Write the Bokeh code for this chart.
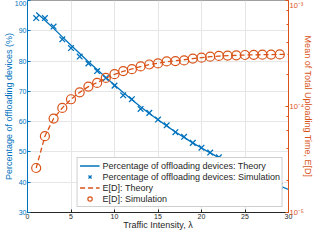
from bokeh.plotting import figure
from bokeh.models import Range1d, LogScale, LogAxis, FixedTicker, CustomJSTickFormatter
from bokeh.embed import file_html
from bokeh.resources import INLINE

# ---- data ----
lam_theory = list(range(1, 31))
pct_theory = [96.0, 93.5, 90.8, 88.0, 85.2, 82.5, 79.8, 77.2, 74.6, 72.1,
              69.6, 67.2, 64.9, 62.7, 60.6, 58.6, 56.6, 54.8, 53.0, 51.3,
              49.7, 48.1, 46.6, 45.2, 43.8, 42.5, 41.2, 40.0, 38.8, 37.6]
lam_sim = list(range(1, 30))
pct_sim = [94.2, 94.2, 91.4, 87.2, 84.3, 81.5, 79.2, 76.7, 74.4, 71.9,
           68.7, 67.4, 64.2, 62.9, 60.7, 58.8, 56.5, 55.0, 53.0, 51.4,
           49.8, 48.2, 46.6, 45.0, 43.7, 42.6, 41.1, 40.1, 38.7]
ed_theory = [2.63e-5, 5.25e-5, 7.7e-5, 9.7e-5, 1.17e-4, 1.36e-4, 1.54e-4, 1.68e-4, 1.85e-4, 2.01e-4,
             2.15e-4, 2.26e-4, 2.38e-4, 2.48e-4, 2.56e-4, 2.64e-4, 2.70e-4, 2.76e-4, 2.83e-4, 2.89e-4,
             2.95e-4, 2.99e-4, 3.02e-4, 3.04e-4, 3.06e-4, 3.07e-4, 3.08e-4, 3.09e-4, 3.10e-4, 3.10e-4]
ed_sim = [2.63e-5, 5.25e-5, 7.7e-5, 9.7e-5, 1.17e-4, 1.36e-4, 1.54e-4, 1.67e-4, 1.86e-4, 2.02e-4,
          2.16e-4, 2.25e-4, 2.39e-4, 2.49e-4, 2.55e-4, 2.66e-4, 2.68e-4, 2.72e-4, 2.83e-4, 2.89e-4,
          2.95e-4, 3.0e-4, 3.02e-4, 3.04e-4, 3.06e-4, 3.07e-4, 3.08e-4, 3.09e-4, 3.10e-4]

x_ticks = [0, 5, 10, 15, 20, 25, 30]
y_ticks = [30, 40, 50, 60, 70, 80, 90, 100]

BLUE = "#0072BD"
ORANGE = "#D95319"
DARK = "#262626"
FONT = "Liberation Sans"

p = figure(width=316, height=232, output_backend="svg", toolbar_location=None,
           x_range=Range1d(0, 30), y_range=Range1d(30, 100),
           min_border_left=0, min_border_right=0, min_border_top=0, min_border_bottom=0)
p.extra_y_ranges = {"ed": Range1d(1e-5, 1e-3)}
p.extra_y_scales = {"ed": LogScale()}

p.outline_line_color = "#A0A0A0"
p.background_fill_color = "white"
p.border_fill_color = "white"

# grids
p.xgrid.ticker = FixedTicker(ticks=x_ticks)
p.ygrid.ticker = FixedTicker(ticks=y_ticks)
p.grid.grid_line_color = "#E6E6E6"
p.grid.grid_line_width = 1

# bottom axis
xa = p.xaxis[0]
xa.ticker = FixedTicker(ticks=x_ticks)
xa.axis_label = "Traffic Intensity, λ"
xa.axis_label_text_font = FONT
xa.axis_label_text_font_size = "9px"
xa.axis_label_text_font_style = "normal"
xa.axis_label_text_color = DARK
xa.axis_label_standoff = -2
xa.major_label_text_font = FONT
xa.major_label_text_font_size = "7px"
xa.major_label_text_color = DARK
xa.major_label_standoff = 1
xa.axis_line_color = DARK
xa.major_tick_line_color = DARK
xa.major_tick_in = 3
xa.major_tick_out = 0
xa.minor_tick_line_color = None

# left axis
ya = p.yaxis[0]
ya.ticker = FixedTicker(ticks=y_ticks)
ya.axis_label = "Percentage of offloading devices (%)"
ya.axis_label_text_font = FONT
ya.axis_label_text_font_size = "9px"
ya.axis_label_text_font_style = "normal"
ya.axis_label_text_color = BLUE
ya.axis_label_standoff = -2
ya.major_label_text_font = FONT
ya.major_label_text_font_size = "7px"
ya.major_label_text_color = BLUE
ya.major_label_standoff = 1
ya.axis_line_color = BLUE
ya.major_tick_line_color = BLUE
ya.major_tick_in = 3
ya.major_tick_out = 0
ya.minor_tick_line_color = None

# right log axis
ra = LogAxis(y_range_name="ed")
ra.formatter = CustomJSTickFormatter(code="""
const e = Math.round(Math.log10(tick));
const sup = {'-':'\u207B','0':'\u2070','1':'\u00B9','2':'\u00B2','3':'\u00B3','4':'\u2074','5':'\u2075','6':'\u2076','7':'\u2077','8':'\u2078','9':'\u2079'};
return '10' + String(e).split('').map(c => sup[c]).join('');
""")
ra.axis_label = "Mean of Total Uploading Time, E[D]"
ra.axis_label_text_font = FONT
ra.axis_label_text_font_size = "9px"
ra.axis_label_text_font_style = "normal"
ra.axis_label_text_color = ORANGE
ra.axis_label_standoff = -4
ra.major_label_text_font = FONT
ra.major_label_text_font_size = "7.5px"
ra.major_label_text_color = ORANGE
ra.major_label_standoff = 1
ra.axis_line_color = ORANGE
ra.major_tick_line_color = ORANGE
ra.minor_tick_line_color = ORANGE
ra.major_tick_in = 3
ra.major_tick_out = 0
ra.minor_tick_in = 2
ra.minor_tick_out = 0
p.add_layout(ra, "right")

# renderers
p.line(lam_theory, pct_theory, line_color=BLUE, line_width=1.3,
       legend_label="Percentage of offloading devices: Theory")
p.scatter(lam_sim, pct_sim, marker="x", size=8, line_color=BLUE, line_width=1.3,
          legend_label="Percentage of offloading devices: Simulation")
p.line(lam_theory, ed_theory, y_range_name="ed", line_color=ORANGE, line_width=1.3,
       line_dash="5 3", legend_label="E[D]: Theory")
p.scatter(lam_sim, ed_sim, y_range_name="ed", marker="circle", size=9,
          fill_color=None, line_color=ORANGE, line_width=1.2,
          legend_label="E[D]: Simulation")

lg = p.legend[0]
lg.location = "bottom_right"
lg.margin = 5
lg.padding = 2
lg.spacing = 0
lg.label_text_font = FONT
lg.label_text_font_size = "9px"
lg.label_text_color = DARK
lg.label_height = 11
lg.glyph_height = 11
lg.glyph_width = 20
lg.label_standoff = 3
lg.border_line_color = "#A0A0A0"
lg.background_fill_alpha = 1.0

open("out.html", "w").write(file_html(p, INLINE))
